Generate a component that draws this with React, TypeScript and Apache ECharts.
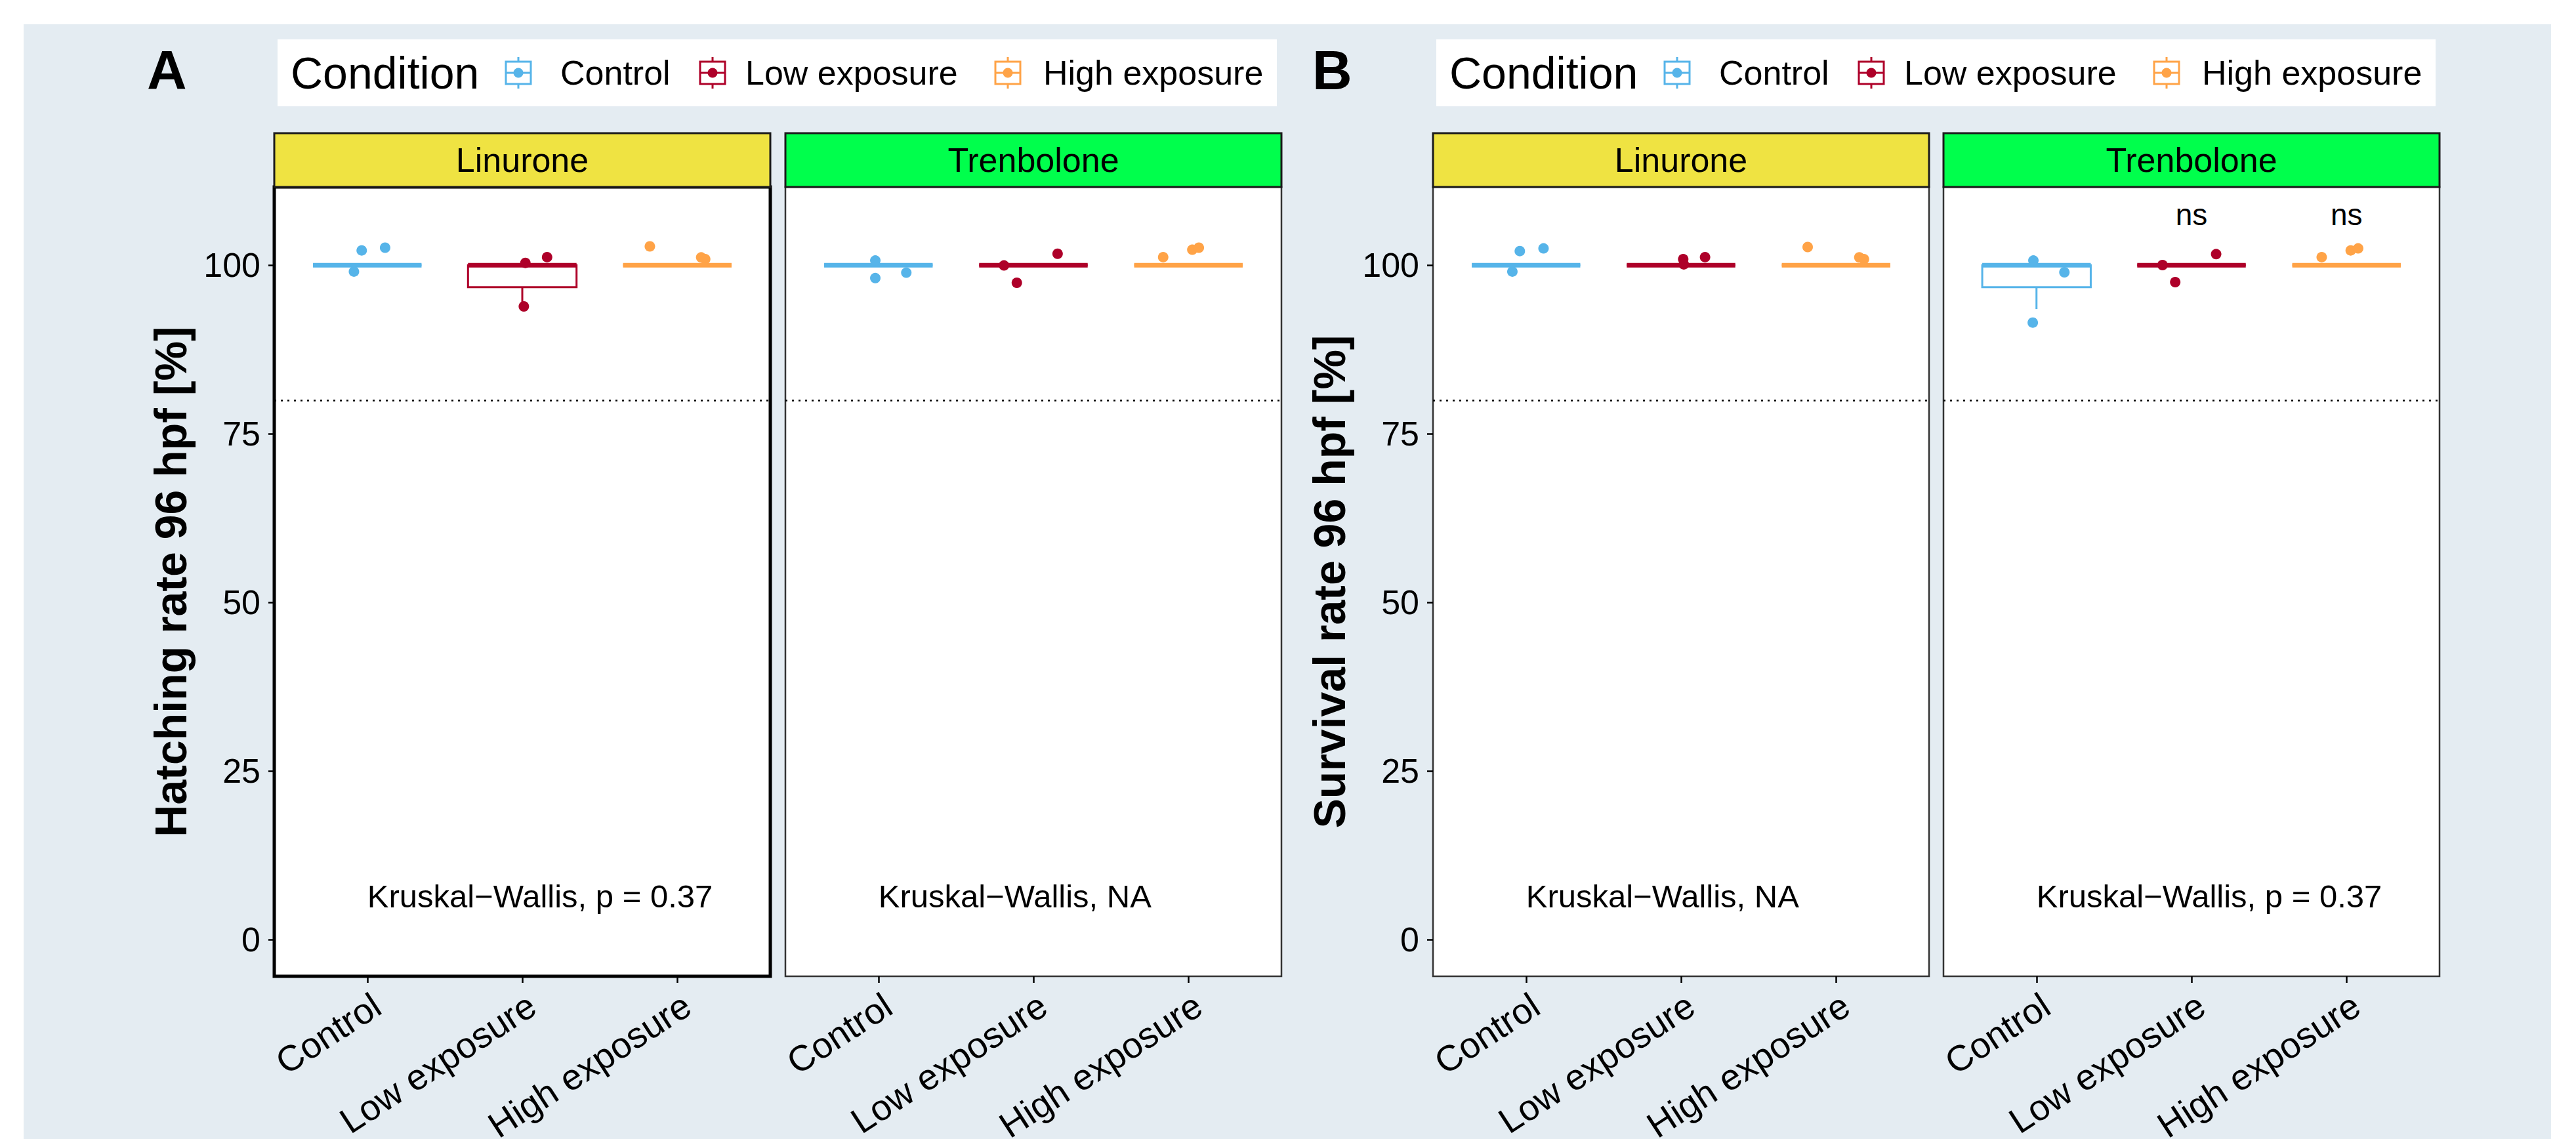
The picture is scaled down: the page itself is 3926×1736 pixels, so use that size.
import React, { useEffect, useRef } from 'react';
import * as echarts from 'echarts';

// ---------- data ----------
const CONDITIONS = ['Control', 'Low exposure', 'High exposure'];
const CONDITION_COLORS = ['#56B4E9', '#AE0029', '#FFA347'];
const COMPOUNDS = ['Linurone', 'Trenbolone'];
const STRIP_COLORS = ['#EFE342', '#00FF4C'];
const Y_TICKS = [0, 25, 50, 75, 100];
const X_TICKS = [1, 2, 3];
const THRESHOLD = 80;
const Y_TITLES = ['Hatching rate 96 hpf [%]', 'Survival rate 96 hpf [%]'];
const PANEL_TAGS = ['A', 'B'];
const LEGEND_TITLE = 'Condition';

// box statistics per condition: [min, q1, median, q3, max]
const hatchLinuroneBox = [[100, 100, 100, 100, 100], [93.5, 96.75, 100, 100, 100], [100, 100, 100, 100, 100]];
const hatchTrenboloneBox = [[100, 100, 100, 100, 100], [100, 100, 100, 100, 100], [100, 100, 100, 100, 100]];
const survLinuroneBox = [[100, 100, 100, 100, 100], [100, 100, 100, 100, 100], [100, 100, 100, 100, 100]];
const survTrenboloneBox = [[93.5, 96.75, 100, 100, 100], [100, 100, 100, 100, 100], [100, 100, 100, 100, 100]];

// jittered points per condition: [horizontal jitter (category units), value]
const hatchLinuronePoints = [
  [[-0.036, 102.2], [0.115, 102.6], [-0.086, 99.06]],
  [[0.02, 100.35], [0.16, 101.2], [0.01, 93.9]],
  [[-0.177, 102.8], [0.154, 101.16], [0.18, 100.9]],
];
const hatchTrenbolonePoints = [
  [[-0.02, 100.7], [-0.02, 98.1], [0.18, 98.9]],
  [[-0.19, 99.97], [0.156, 101.7], [-0.107, 97.4]],
  [[-0.163, 101.2], [0.025, 102.3], [0.067, 102.6]],
];
const survLinuronePoints = [
  [[-0.04, 102.1], [0.113, 102.5], [-0.088, 99.06]],
  [[0.014, 100.9], [0.018, 100.13], [0.155, 101.2]],
  [[-0.183, 102.7], [0.15, 101.17], [0.18, 100.9]],
];
const survTrenbolonePoints = [
  [[-0.02, 100.7], [0.18, 98.96], [-0.024, 91.5]],
  [[-0.187, 100.03], [0.159, 101.65], [-0.105, 97.5]],
  [[-0.16, 101.2], [0.027, 102.2], [0.075, 102.5]],
];

const KW_LABELS = ['Kruskal\u2212Wallis, p = 0.37', 'Kruskal\u2212Wallis, NA', 'Kruskal\u2212Wallis, NA', 'Kruskal\u2212Wallis, p = 0.37'];
const KW_X = 1;
const KW_Y = 6.5;
// significance labels: [category position, y value, text]
const hatchLinuroneSig: any[] = [];
const hatchTrenboloneSig: any[] = [];
const survLinuroneSig: any[] = [];
const survTrenboloneSig = [[2, 107.5, 'ns'], [3, 107.5, 'ns']];

// ---------- layout ----------
const FONT = '"Liberation Sans", Arial, Helvetica, sans-serif';
const PANEL_LEFT = [418, 1197, 2184, 2962];
const PANEL_W = 756;
const PANEL_TOP = 285;
const PANEL_H = 1203;
const STRIP_TOP = 203;
const STRIP_H = 82;
const Y_MIN = -5.4;
const Y_MAX = 111.6;
const X_MIN = 0.4;
const X_MAX = 3.6;
const BOX_WIDTH = 0.7;
const LEGEND_LEFT = [423, 2189];
const LEGEND_W = 1523;
const LEGEND_TOP = 60;
const LEGEND_H = 102;
const LEGEND_ICON_DX = [367, 663, 1113];
const LEGEND_LABEL_DX = [431, 713, 1167];
const TAG_X = [224, 2000];

const PANELS = [
  { fig: 0, comp: 0, box: hatchLinuroneBox, pts: hatchLinuronePoints, sig: hatchLinuroneSig },
  { fig: 0, comp: 1, box: hatchTrenboloneBox, pts: hatchTrenbolonePoints, sig: hatchTrenboloneSig },
  { fig: 1, comp: 0, box: survLinuroneBox, pts: survLinuronePoints, sig: survLinuroneSig },
  { fig: 1, comp: 1, box: survTrenboloneBox, pts: survTrenbolonePoints, sig: survTrenboloneSig },
];

function buildOption() {
  const grid: any[] = [];
  const xAxis: any[] = [];
  const yAxis: any[] = [];
  const series: any[] = [];
  const graphic: any[] = [];

  PANELS.forEach((p, i) => {
    const isLeft = p.comp === 0;
    const highlighted = i === 0;
    grid.push({
      left: PANEL_LEFT[i], top: PANEL_TOP, width: PANEL_W, height: PANEL_H,
      containLabel: false, outerBoundsMode: 'none',
      show: true, backgroundColor: '#ffffff',
      borderColor: highlighted ? '#000000' : '#333333',
      borderWidth: highlighted ? 5 : 2.5,
    });
    xAxis.push({
      type: 'value', gridIndex: i, min: X_MIN, max: X_MAX, position: 'bottom',
      axisLine: { show: false, onZero: false }, splitLine: { show: false },
      axisTick: { show: true, customValues: X_TICKS, length: 10, lineStyle: { color: '#000', width: 2.5 } },
      axisLabel: {
        customValues: X_TICKS,
        formatter: (v: number) => CONDITIONS[Math.round(v) - 1],
        rotate: 33, align: 'right', verticalAlign: 'top', margin: 16,
        fontSize: 55, color: '#000', fontFamily: FONT,
      },
    });
    yAxis.push({
      type: 'value', gridIndex: i, min: Y_MIN, max: Y_MAX, position: 'left',
      axisLine: { show: false, onZero: false }, splitLine: { show: false },
      axisTick: { show: isLeft, customValues: Y_TICKS, length: 9, lineStyle: { color: '#000', width: 2.5 } },
      axisLabel: { show: isLeft, customValues: Y_TICKS, fontSize: 52, margin: 21, color: '#000', fontFamily: FONT },
      name: isLeft ? Y_TITLES[p.fig] : '',
      nameLocation: 'middle', nameRotate: 90, nameGap: 124,
      nameTextStyle: { fontSize: 68, fontWeight: 'bold', color: '#000', fontFamily: FONT },
    });

    // boxes
    series.push({
      type: 'custom', xAxisIndex: i, yAxisIndex: i, z: 2,
      encode: { x: 0, y: [1, 2, 3, 4, 5] },
      data: p.box.map((b, c) => [c + 1, ...b, c]),
      renderItem: (params: any, api: any) => {
        const x = api.value(0);
        const color = CONDITION_COLORS[api.value(6)];
        const pMin = api.coord([x, api.value(1)]);
        const pQ1 = api.coord([x, api.value(2)]);
        const pMed = api.coord([x, api.value(3)]);
        const pQ3 = api.coord([x, api.value(4)]);
        const pMax = api.coord([x, api.value(5)]);
        const hw = api.size([BOX_WIDTH, 0])[0] / 2;
        const cx = pMed[0];
        const children: any[] = [];
        if (pMin[1] - pQ1[1] > 0.5) {
          children.push({ type: 'line', shape: { x1: cx, y1: pQ1[1], x2: cx, y2: pMin[1] }, style: { stroke: color, lineWidth: 3 } });
        }
        if (pQ3[1] - pMax[1] > 0.5) {
          children.push({ type: 'line', shape: { x1: cx, y1: pQ3[1], x2: cx, y2: pMax[1] }, style: { stroke: color, lineWidth: 3 } });
        }
        children.push({ type: 'rect', shape: { x: cx - hw, y: pQ3[1], width: hw * 2, height: pQ1[1] - pQ3[1] }, style: { fill: '#ffffff', stroke: color, lineWidth: 3 } });
        children.push({ type: 'line', shape: { x1: cx - hw, y1: pMed[1], x2: cx + hw, y2: pMed[1] }, style: { stroke: color, lineWidth: 7 } });
        return { type: 'group', children };
      },
    });

    // points
    p.pts.forEach((arr, c) => {
      const s: any = {
        type: 'scatter', name: CONDITIONS[c], xAxisIndex: i, yAxisIndex: i, z: 3,
        symbol: 'circle', symbolSize: 16,
        itemStyle: { color: CONDITION_COLORS[c], opacity: 1 },
        data: arr.map((d) => [c + 1 + d[0], d[1]]),
      };
      if (c === 0) {
        s.markLine = {
          silent: true, symbol: ['none', 'none'], label: { show: false },
          lineStyle: { color: '#000', type: [3, 7], width: 2.5 },
          data: [{ yAxis: THRESHOLD }],
        };
      }
      series.push(s);
    });

    // annotations
    const texts = [[KW_X, KW_Y, KW_LABELS[i], 'left', 49], ...p.sig.map((s: any) => [s[0], s[1], s[2], 'center', 46])];
    series.push({
      type: 'custom', xAxisIndex: i, yAxisIndex: i, z: 4,
      encode: { x: 0, y: 1 },
      data: texts.map((t) => [t[0], t[1]]),
      renderItem: (params: any, api: any) => {
        const t = texts[params.dataIndex];
        const pt = api.coord([api.value(0), api.value(1)]);
        return {
          type: 'text', x: pt[0], y: pt[1],
          style: { text: t[2], fontSize: t[4], fontFamily: FONT, fill: '#000', align: t[3], verticalAlign: 'middle' },
        };
      },
    });

    // strip
    graphic.push({
      type: 'rect', z: 10,
      shape: { x: PANEL_LEFT[i], y: STRIP_TOP, width: PANEL_W, height: STRIP_H },
      style: { fill: STRIP_COLORS[p.comp], stroke: '#1a1a1a', lineWidth: 3 },
    });
    graphic.push({
      type: 'text', z: 11, x: PANEL_LEFT[i] + PANEL_W / 2, y: STRIP_TOP + STRIP_H / 2,
      style: { text: COMPOUNDS[p.comp], fontSize: 52, fontFamily: FONT, fill: '#000', align: 'center', verticalAlign: 'middle' },
    });
  });

  // legends and tags
  [0, 1].forEach((f) => {
    const L = LEGEND_LEFT[f];
    const cy = LEGEND_TOP + LEGEND_H / 2;
    graphic.push({
      type: 'rect', z: 10,
      shape: { x: L, y: LEGEND_TOP, width: LEGEND_W, height: LEGEND_H },
      style: { fill: '#ffffff' },
    });
    graphic.push({
      type: 'text', z: 11, x: L + 20, y: cy,
      style: { text: LEGEND_TITLE, fontSize: 68, fontFamily: FONT, fill: '#000', align: 'left', verticalAlign: 'middle' },
    });
    CONDITIONS.forEach((name, c) => {
      const color = CONDITION_COLORS[c];
      graphic.push({
        type: 'group', z: 11, x: L + LEGEND_ICON_DX[c], y: cy,
        children: [
          { type: 'line', z: 11, shape: { x1: 0, y1: -24, x2: 0, y2: -17 }, style: { stroke: color, lineWidth: 3 } },
          { type: 'line', z: 11, shape: { x1: 0, y1: 17, x2: 0, y2: 24 }, style: { stroke: color, lineWidth: 3 } },
          { type: 'rect', z: 11, shape: { x: -19, y: -17, width: 38, height: 34 }, style: { fill: '#fff', stroke: color, lineWidth: 3 } },
          { type: 'line', z: 11, shape: { x1: -19, y1: 0, x2: 19, y2: 0 }, style: { stroke: color, lineWidth: 3 } },
          { type: 'circle', z: 12, shape: { cx: 0, cy: 0, r: 7.5 }, style: { fill: color } },
        ],
      });
      graphic.push({
        type: 'text', z: 11, x: L + LEGEND_LABEL_DX[c], y: cy,
        style: { text: name, fontSize: 52, fontFamily: FONT, fill: '#000', align: 'left', verticalAlign: 'middle' },
      });
    });
    graphic.push({
      type: 'text', z: 11, x: TAG_X[f], y: 107,
      style: { text: PANEL_TAGS[f], fontSize: 84, fontWeight: 'bold', fontFamily: FONT, fill: '#000', align: 'left', verticalAlign: 'middle' },
    });
  });

  return { animation: false, grid, xAxis, yAxis, series, graphic };
}

export default function App() {
  const ref = useRef<HTMLDivElement>(null);
  useEffect(() => {
    if (!ref.current) return;
    const chart = echarts.init(ref.current, null, { renderer: 'svg' });
    chart.setOption(buildOption() as any);
    return () => chart.dispose();
  }, []);
  return (
    <div style={{ position: 'absolute', left: 0, top: 0, width: 3926, height: 1736, background: '#ffffff', overflow: 'hidden' }}>
      <div style={{ position: 'absolute', left: 36, top: 37, width: 3852, height: 1699, background: '#E4ECF2' }} />
      <div ref={ref} style={{ position: 'absolute', left: 0, top: 0, width: 3926, height: 1736 }} />
    </div>
  );
}
